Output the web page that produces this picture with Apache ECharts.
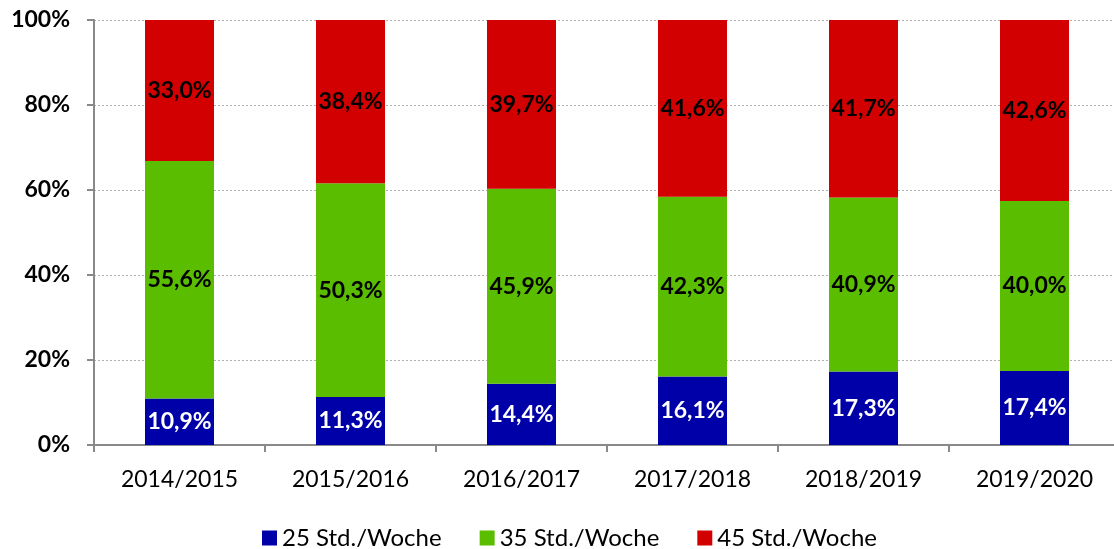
<!DOCTYPE html>
<html><head><meta charset="utf-8">
<script src="https://cdn.jsdelivr.net/npm/echarts@6/dist/echarts.min.js"></script>
<style>html,body{margin:0;padding:0;background:#fff;overflow:hidden}#c{width:1120px;height:549px}</style>
</head><body><div id="c"></div>
<script>
const categories = ['2014/2015','2015/2016','2016/2017','2017/2018','2018/2019','2019/2020'];
const seriesNames = ['25 Std./Woche','35 Std./Woche','45 Std./Woche'];
const s25 = [10.9, 11.3, 14.4, 16.1, 17.3, 17.4];
const s35 = [55.6, 50.3, 45.9, 42.3, 40.9, 40.0];
const s45 = [33.0, 38.4, 39.7, 41.6, 41.7, 42.6];
const yTicks = ['0%','20%','40%','60%','80%','100%'];

const colors = ['#0000A8','#5BBD00','#D20000'];
const raw = [s25, s35, s45];
const totals = categories.map((_, i) => s25[i] + s35[i] + s45[i]);
const font = 'Lato, "Open Sans", sans-serif';

const chart = echarts.init(document.getElementById('c'));
chart.setOption({
  animation: false,
  grid: {left: 94, right: 0, top: 20, height: 425, containLabel: false},
  legend: {
    top: 521, left: 257, itemWidth: 15, itemHeight: 15, itemGap: 38, icon: 'rect',
    textStyle: {fontFamily: font, fontSize: 24, color: '#000'},
    data: seriesNames
  },
  xAxis: {
    type: 'category', data: categories,
    axisLine: {lineStyle: {color: '#898989', width: 2}},
    axisTick: {show: true, length: 7, lineStyle: {color: '#898989', width: 2}},
    axisLabel: {fontFamily: font, fontSize: 23, color: '#000', margin: 23}
  },
  yAxis: {
    type: 'value', min: 0, max: 100, interval: 20,
    axisLine: {show: true, lineStyle: {color: '#898989', width: 2}},
    axisTick: {show: true, length: 7, lineStyle: {color: '#898989', width: 2}},
    splitLine: {lineStyle: {color: '#B0B0B0', type: [2, 2], width: 1}},
    axisLabel: {fontFamily: font, fontSize: 23, fontWeight: 'bold', color: '#000', margin: 24,
      formatter: (v) => yTicks[Math.round(v / 20)]}
  },
  series: raw.map((arr, k) => ({
    name: seriesNames[k], type: 'bar', stack: 'total', barWidth: 69,
    itemStyle: {color: colors[k]},
    label: {
      show: true, position: 'inside', fontFamily: font, fontSize: 23, fontWeight: 'bold',
      color: k === 0 ? '#fff' : '#000',
      formatter: (p) => arr[p.dataIndex].toFixed(1).replace('.', ',') + '%'
    },
    data: arr.map((v, i) => v / totals[i] * 100)
  }))
});
</script></body></html>
